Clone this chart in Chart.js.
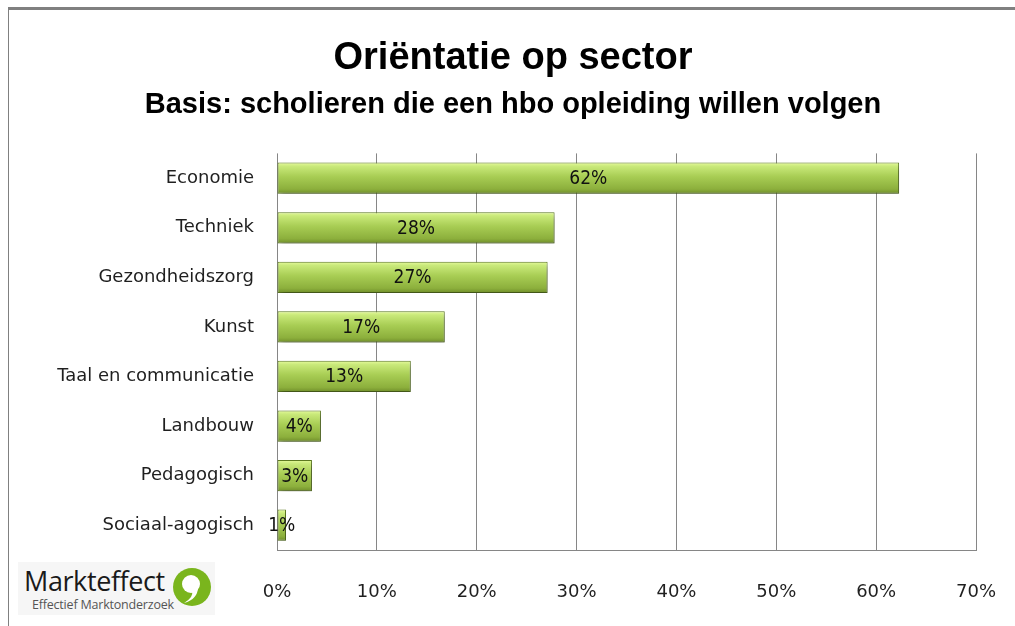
<!DOCTYPE html>
<html>
<head>
<meta charset="utf-8">
<script src="https://cdn.jsdelivr.net/npm/chart.js@4"></script>
<style>
    html, body {
        margin: 0;
        padding: 0;
        background: #ffffff;
    }

    #wrap {
        position: relative;
        width: 1015px;
        height: 626px;
        overflow: hidden;
    }

    #frame {
        position: absolute;
        left: 8px;
        top: 7px;
        right: -2px;
        bottom: -2px;
        border-top: 3px solid #808080;
        border-left: 1px solid #808080;
        pointer-events: none;
    }

    #logo {
        position: absolute;
        left: 18px;
        top: 562px;
        width: 197px;
        height: 53px;
        background: #f6f6f6;
        font-family: 'Open Sans', sans-serif;
    }

    #logo .name {
        position: absolute;
        left: 6px;
        top: 0px;
        font-size: 27px;
        color: #1a1a1a;
        letter-spacing: -0.4px;
    }

    #logo .sub {
        position: absolute;
        left: 14px;
        top: 34px;
        font-size: 12.5px;
        color: #555555;
        letter-spacing: -0.2px;
    }

    #logo svg {
        position: absolute;
        left: 154px;
        top: 5px;
    }
</style>
</head>
<body>
<div id="wrap">
    <canvas id="sectorChart"></canvas>
    <div id="frame"></div>
    <div id="logo">
        <span class="name">Markteffect</span>
        <span class="sub">Effectief Marktonderzoek</span>
        <svg width="42" height="44" viewBox="0 0 42 44">
            <circle cx="20" cy="20" r="19" fill="#7ab51d"/>
            <circle cx="19" cy="17" r="9" fill="#ffffff"/>
            <path d="M26 20 Q26 32 12 36 Q22 30 20 24 Z" fill="#ffffff"/>
        </svg>
    </div>
</div>

<script>

const sectors = [
    'Economie',
    'Techniek',
    'Gezondheidszorg',
    'Kunst',
    'Taal en communicatie',
    'Landbouw',
    'Pedagogisch',
    'Sociaal-agogisch'
];

const shares = [62.3, 27.8, 27.1, 16.8, 13.4, 4.4, 3.5, 0.9];

const shareLabels = ['62%', '28%', '27%', '17%', '13%', '4%', '3%', '1%'];

const axisTicks = [0, 10, 20, 30, 40, 50, 60, 70];

const titleText = 'Oriëntatie op sector';

const subtitleText = 'Basis: scholieren die een hbo opleiding willen volgen';

const labelFont = "'Liberation Sans Narrow', 'DejaVu Sans Condensed', 'DejaVu Sans', sans-serif";

const barShare = 0.63;

function barGradient(context) {

    const chart =
        context.chart;

    const yScale =
        chart.scales.y;

    if (!yScale || !chart.chartArea) {
        return '#9fc54c';
    }

    const center =
        yScale.getPixelForValue(context.dataIndex);

    const half =
        yScale.height / sectors.length * barShare / 2;

    const g =
        chart.ctx.createLinearGradient(0, center - half, 0, center + half);

    g.addColorStop(0, '#e6fb9c');
    g.addColorStop(0.12, '#c9e97a');
    g.addColorStop(0.45, '#a8cd54');
    g.addColorStop(0.85, '#8caf3c');
    g.addColorStop(1, '#6f8d2a');

    return g;

}

const shadowPlugin = {

    id: 'barShadow',

    beforeDatasetsDraw(chart) {
        const ctx = chart.ctx;
        ctx.save();
        ctx.shadowColor = 'rgba(0, 0, 0, 0.35)';
        ctx.shadowBlur = 6;
        ctx.shadowOffsetX = 2;
        ctx.shadowOffsetY = 4;
    },

    afterDatasetsDraw(chart) {
        chart.ctx.restore();
    }

};

const valueLabelPlugin = {

    id: 'valueLabels',

    afterDraw(chart) {

        const ctx = chart.ctx;
        const meta = chart.getDatasetMeta(0);

        ctx.save();
        ctx.font = '19px ' + labelFont;
        ctx.fillStyle = '#111111';
        ctx.textAlign = 'center';
        ctx.textBaseline = 'middle';

        meta.data.forEach((bar, i) => {
            ctx.fillText(
                shareLabels[i],
                (bar.x + bar.base) / 2,
                bar.y + 1
            );
        });

        ctx.restore();

    }

};

new Chart(document.getElementById('sectorChart'), {

    type: 'bar',

    data: {
        labels: sectors,
        datasets: [{
            data: shares,
            backgroundColor: barGradient,
            borderColor: '#5f7c22',
            borderWidth: 1,
            borderSkipped: false,
            categoryPercentage: 1,
            barPercentage: barShare
        }]
    },

    options: {

        indexAxis: 'y',

        responsive: true,

        maintainAspectRatio: false,

        animation: false,

        layout: {
            padding: {
                left: 50,
                right: 39,
                top: 0,
                bottom: 0
            }
        },

        plugins: {

            legend: {
                display: false
            },

            tooltip: {
                enabled: false
            },

            title: {
                display: true,
                text: titleText,
                color: '#000000',
                font: {
                    family: "'Liberation Sans', 'Noto Sans', sans-serif",
                    size: 38,
                    weight: 'bold'
                },
                padding: {
                    top: 36,
                    bottom: 6
                }
            },

            subtitle: {
                display: true,
                text: subtitleText,
                color: '#000000',
                font: {
                    family: "'Liberation Sans', 'Noto Sans', sans-serif",
                    size: 29,
                    weight: 'bold'
                },
                padding: {
                    top: 0,
                    bottom: 31
                }
            }

        },

        scales: {

            x: {
                min: 0,
                max: 70,
                afterBuildTicks(scale) {
                    scale.ticks = axisTicks.map(v => ({ value: v }));
                },
                afterFit(scale) {
                    scale.height = 76;
                },
                ticks: {
                    padding: 3,
                    color: '#1f1f1f',
                    font: {
                        family: "'DejaVu Sans', sans-serif",
                        size: 18
                    },
                    callback: value => value + '%'
                },
                grid: {
                    color: '#868686',
                    lineWidth: 1,
                    drawTicks: true,
                    tickLength: 29,
                    tickColor: 'rgba(0, 0, 0, 0)'
                },
                border: {
                    display: true,
                    color: '#868686'
                }
            },

            y: {
                afterFit(scale) {
                    scale.width = 227;
                },
                ticks: {
                    padding: 23,
                    color: '#1f1f1f',
                    font: {
                        family: "'DejaVu Sans', sans-serif",
                        size: 18
                    }
                },
                grid: {
                    display: false,
                    drawTicks: false
                },
                border: {
                    display: false
                }
            }

        }

    },

    plugins: [shadowPlugin, valueLabelPlugin]

});

</script>
</body>
</html>
